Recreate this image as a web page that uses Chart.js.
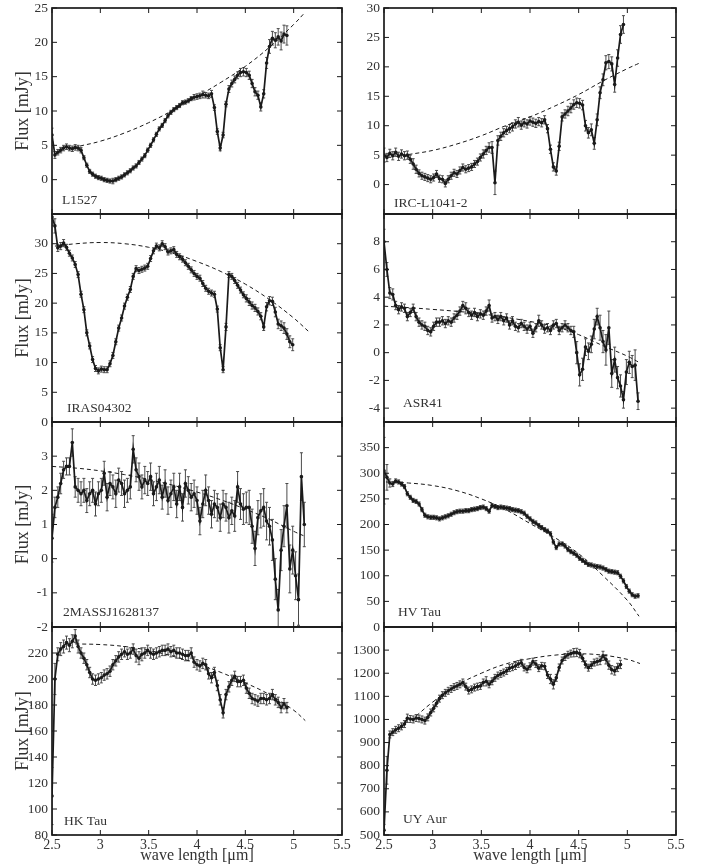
<!DOCTYPE html>
<html>
<head>
<meta charset="utf-8">
<script src="https://cdn.jsdelivr.net/npm/chart.js@4.4.1/dist/chart.umd.min.js"></script>
<style>
  html, body { margin: 0; padding: 0; background: #fff; }
  #wrap { position: relative; width: 712px; height: 867px; overflow: hidden; }
  #wrap canvas { position: absolute; }
</style>
</head>
<body>
<div id="wrap"></div>
<script>
// shared wavelength grid [um]
const wave = [
  2.50, 2.53, 2.56, 2.59, 2.62, 2.65, 2.68, 2.71, 2.74, 2.77,
  2.80, 2.83, 2.86, 2.89, 2.92, 2.95, 2.98, 3.01, 3.04, 3.07,
  3.10, 3.13, 3.16, 3.19, 3.22, 3.25, 3.28, 3.31, 3.34, 3.37,
  3.40, 3.43, 3.46, 3.49, 3.52, 3.55, 3.58, 3.61, 3.64, 3.67,
  3.70, 3.73, 3.76, 3.79, 3.82, 3.85, 3.88, 3.91, 3.94, 3.97,
  4.00, 4.03, 4.06, 4.09, 4.12, 4.15, 4.18, 4.21, 4.24, 4.27,
  4.30, 4.33, 4.36, 4.39, 4.42, 4.45, 4.48, 4.51, 4.54, 4.57,
  4.60, 4.63, 4.66, 4.69, 4.72, 4.75, 4.78, 4.81, 4.84, 4.87,
  4.90, 4.93, 4.96, 4.99, 5.02, 5.05, 5.08, 5.11
];
const xTicks = [2.5, 3, 3.5, 4, 4.5, 5, 5.5];

// L1527
const l1527Flux = [
  6.5, 3.6, 4.0, 4.3, 4.6, 4.8, 4.6, 4.5, 4.7, 4.6,
  4.3, 3.2, 2.1, 1.2, 0.8, 0.5, 0.3, 0.2, 0.0, -0.1,
  -0.2, -0.2, 0.0, 0.2, 0.4, 0.7, 1.0, 1.3, 1.7, 2.0,
  2.5, 3.0, 3.5, 4.3, 5.0, 5.8, 6.6, 7.4, 7.9, 8.6,
  9.3, 9.8, 10.2, 10.5, 10.8, 11.2, 11.3, 11.5, 11.8, 12.0,
  12.1, 12.2, 12.4, 12.3, 12.2, 12.5, 10.5, 7.0, 4.6, 6.5,
  11.0, 13.2, 14.0, 14.6, 15.2, 15.6, 15.7, 15.6, 15.2, 14.0,
  12.8, 12.3, 10.6, 12.5, 17.0, 19.4, 20.6, 20.3, 20.8, 20.2,
  21.2, 21.0
];
const l1527Err = [
  1.0, 0.5, 0.4, 0.4, 0.4, 0.4, 0.4, 0.4, 0.4, 0.4,
  0.4, 0.3, 0.3, 0.3, 0.3, 0.3, 0.3, 0.3, 0.3, 0.3,
  0.3, 0.4, 0.3, 0.3, 0.3, 0.3, 0.3, 0.3, 0.3, 0.3,
  0.3, 0.3, 0.3, 0.3, 0.3, 0.3, 0.3, 0.3, 0.3, 0.3,
  0.3, 0.3, 0.3, 0.3, 0.3, 0.3, 0.3, 0.3, 0.3, 0.4,
  0.4, 0.4, 0.5, 0.4, 0.4, 0.5, 0.4, 0.4, 0.4, 0.4,
  0.4, 0.5, 0.5, 0.5, 0.5, 0.6, 0.6, 0.6, 0.6, 0.6,
  0.6, 0.6, 0.6, 0.6, 0.8, 1.0, 1.0, 1.1, 1.2, 1.3,
  1.3, 1.4
];
const l1527FitWave = [2.79, 3.0, 3.25, 3.5, 3.75, 4.0, 4.25, 4.5, 4.75, 5.0, 5.12];
const l1527Fit = [4.9, 5.6, 6.8, 8.3, 10.1, 12.1, 14.2, 16.5, 19.3, 22.6, 24.4];
const l1527Ticks = [0, 5, 10, 15, 20, 25];

// IRC-L1041-2
const ircFlux = [
  5.0, 4.6, 5.3, 4.9, 5.5, 4.8, 5.2, 4.9, 5.0, 4.3,
  3.5, 2.6, 1.9, 1.5, 1.3, 1.1, 0.9, 1.2, 1.8, 1.0,
  0.9, 0.2, 0.9, 1.5, 2.0, 1.8, 2.4, 2.9, 2.6, 2.8,
  3.0, 3.5, 3.9, 4.6, 5.2, 5.8, 6.3, 6.3, 0.3, 7.5,
  8.2, 8.8, 9.2, 9.5, 9.8, 10.3, 10.6, 10.1, 10.5, 10.3,
  10.8, 10.6, 10.4, 10.7, 10.5, 11.0, 9.5, 6.0, 3.0, 2.3,
  6.5, 11.5, 12.0, 12.5, 13.0, 13.6, 13.9, 13.8, 13.5, 10.0,
  8.8, 9.3, 7.0, 11.0, 15.6, 17.8, 20.7, 20.9, 20.5, 17.0,
  21.5, 25.5, 27.2
];
const ircErr = [
  1.2, 0.7, 0.7, 0.7, 0.7, 0.7, 0.7, 0.7, 0.7, 0.7,
  0.9, 0.7, 0.6, 0.6, 0.6, 0.6, 0.6, 0.6, 0.6, 0.6,
  0.6, 0.6, 0.6, 0.6, 0.6, 0.6, 0.6, 0.6, 0.6, 0.6,
  0.6, 0.6, 0.6, 0.6, 0.7, 0.7, 0.8, 1.0, 2.0, 0.8,
  0.7, 0.7, 0.7, 0.7, 0.7, 0.7, 0.8, 0.7, 0.7, 0.7,
  0.7, 0.7, 0.7, 0.7, 0.7, 0.7, 0.7, 0.7, 0.7, 0.7,
  0.7, 0.7, 0.7, 0.8, 0.8, 0.8, 0.8, 0.8, 0.8, 0.9,
  0.9, 1.0, 1.0, 1.0, 1.0, 1.0, 1.2, 1.2, 1.2, 1.3,
  1.4, 1.5, 1.5
];
const ircFitWave = [2.75, 3.0, 3.25, 3.5, 3.75, 4.0, 4.25, 4.5, 4.75, 5.0, 5.12];
const ircFit = [5.1, 5.8, 6.9, 8.3, 10.0, 11.5, 13.3, 15.3, 17.6, 19.7, 20.6];
const ircTicks = [0, 5, 10, 15, 20, 25, 30];

// IRAS04302
const irasFlux = [
  34.5, 33.0, 29.3, 29.6, 30.1, 29.4, 28.4, 27.6, 26.5, 24.8,
  21.5, 18.9, 15.0, 12.8, 10.5, 9.0, 8.6, 8.9, 8.8, 8.8,
  9.8, 11.2, 13.5, 15.8, 17.5, 19.5, 21.0, 22.3, 24.5, 25.8,
  25.5, 25.7, 25.9, 26.2, 27.5, 28.8, 29.6, 29.3, 30.0, 29.5,
  28.6, 28.8, 29.0, 28.2, 27.8, 27.4, 26.8, 26.2, 25.6, 25.0,
  24.5, 24.2, 23.3, 22.5, 22.0, 21.7, 21.5, 19.0, 12.5, 8.8,
  16.0, 24.8, 24.5, 23.8, 23.0, 22.2, 21.4, 20.8, 20.2, 19.6,
  19.2, 18.6, 17.8, 16.0, 19.4, 20.4, 20.3, 18.5, 16.5, 16.2,
  15.8, 14.8, 13.5, 13.0
];
const irasErr = [
  1.5, 1.2, 0.6, 0.6, 0.6, 0.5, 0.5, 0.5, 0.5, 0.5,
  0.5, 0.5, 0.5, 0.5, 0.5, 0.5, 0.5, 0.5, 0.5, 0.5,
  0.5, 0.5, 0.5, 0.5, 0.5, 0.5, 0.5, 0.5, 0.5, 0.5,
  0.5, 0.5, 0.5, 0.5, 0.5, 0.5, 0.5, 0.5, 0.5, 0.5,
  0.5, 0.5, 0.5, 0.5, 0.5, 0.5, 0.5, 0.5, 0.5, 0.5,
  0.5, 0.5, 0.5, 0.5, 0.5, 0.5, 0.5, 0.5, 0.5, 0.5,
  0.6, 0.5, 0.5, 0.5, 0.5, 0.5, 0.5, 0.6, 0.6, 0.6,
  0.6, 0.6, 0.6, 0.6, 0.7, 0.7, 0.7, 0.8, 0.8, 0.8,
  0.9, 0.9, 1.0, 1.0
];
const irasFitWave = [2.53, 2.75, 3.0, 3.25, 3.5, 3.75, 4.0, 4.25, 4.5, 4.75, 5.0, 5.15];
const irasFit = [29.6, 30.0, 30.2, 30.0, 29.4, 28.4, 27.0, 25.3, 23.2, 20.6, 17.5, 15.3];
const irasTicks = [0, 5, 10, 15, 20, 25, 30];

// ASR41
const asrFlux = [
  8.0, 6.0, 4.3, 4.2, 3.4, 3.1, 3.3, 3.2, 2.6, 2.9,
  3.2, 2.6, 2.2, 2.0, 1.9, 1.6, 1.5, 1.9, 2.2, 2.2,
  2.3, 2.1, 2.3, 2.2, 2.5, 2.7, 3.0, 3.4, 3.2, 2.9,
  2.7, 2.9, 2.6, 2.8, 2.7, 3.0, 3.4, 2.5, 2.6, 2.4,
  2.6, 2.3, 2.5, 2.0, 2.3, 1.9, 1.8, 2.1, 1.9, 1.7,
  1.9, 1.4, 1.8, 2.3, 2.0, 1.7, 1.8, 1.6, 2.0, 2.1,
  1.6, 1.8, 2.0, 1.8, 1.6, 1.5, 0.0, -1.6, -1.2, 0.4,
  0.1, 0.6, 1.7, 2.6, 1.8, 0.8, 0.2, 1.8, -1.5, -0.5,
  -1.8, -2.4, -3.4, -1.4, -0.7, -1.0, -0.9, -3.5
];
const asrErr = [
  0.9, 0.5, 0.4, 0.4, 0.3, 0.3, 0.3, 0.3, 0.3, 0.3,
  0.3, 0.3, 0.3, 0.3, 0.3, 0.3, 0.3, 0.3, 0.3, 0.3,
  0.3, 0.3, 0.3, 0.3, 0.3, 0.3, 0.3, 0.3, 0.4, 0.3,
  0.3, 0.3, 0.3, 0.3, 0.3, 0.3, 0.4, 0.3, 0.3, 0.3,
  0.3, 0.3, 0.3, 0.3, 0.3, 0.3, 0.3, 0.3, 0.3, 0.3,
  0.3, 0.3, 0.3, 0.4, 0.3, 0.3, 0.3, 0.3, 0.3, 0.3,
  0.3, 0.3, 0.3, 0.3, 0.3, 0.4, 0.8, 0.8, 0.8, 0.6,
  0.6, 0.6, 0.7, 0.6, 0.9, 0.8, 1.1, 1.2, 1.0, 0.9,
  0.8, 0.8, 0.6, 0.9, 0.8, 0.8, 1.1, 0.6
];
const asrFitWave = [2.5, 2.75, 3.0, 3.25, 3.5, 3.75, 4.0, 4.25, 4.5, 4.75, 5.0, 5.12];
const asrFit = [3.35, 3.25, 3.12, 2.98, 2.8, 2.55, 2.25, 1.9, 1.3, 0.5, -0.25, -0.7];
const asrTicks = [-4, -2, 0, 2, 4, 6, 8];

// 2MASSJ1628137
const massFlux = [
  0.6, 1.5, 1.8, 2.2, 2.6, 2.7, 2.7, 3.4, 2.1, 2.0,
  1.9, 2.0, 1.7, 1.9, 2.0, 1.6, 1.9, 2.0, 2.5, 1.8,
  2.2, 2.1, 1.9, 2.3, 2.2, 1.9, 2.0, 2.1, 3.2, 2.6,
  2.4, 2.1, 2.3, 2.2, 2.4, 1.9, 2.1, 2.3, 1.8, 2.2,
  1.7, 1.9, 2.1, 1.6, 2.1, 1.5, 2.2, 2.0, 1.8, 1.9,
  1.7, 1.1, 1.6, 2.0, 1.7, 1.3, 1.6, 1.5, 1.2, 1.6,
  1.5, 1.2, 1.4, 1.25, 2.1, 1.6, 1.45, 1.5, 1.5, 0.95,
  0.3, 1.2, 1.4, 1.5, 1.1, 0.95, 0.55, -0.6, -1.5, 0.25,
  0.95, 1.55, -0.3, 0.25, -0.5, -1.2, 2.4, 1.0
];
const massErr = [
  0.7, 0.3, 0.3, 0.3, 0.25, 0.25, 0.25, 0.4, 0.3, 0.35,
  0.35, 0.35, 0.35, 0.35, 0.35, 0.35, 0.35, 0.35, 0.35, 0.4,
  0.35, 0.35, 0.4, 0.35, 0.35, 0.4, 0.35, 0.35, 0.4, 0.35,
  0.4, 0.35, 0.4, 0.35, 0.4, 0.35, 0.4, 0.4, 0.35, 0.4,
  0.4, 0.4, 0.4, 0.4, 0.4, 0.4, 0.4, 0.4, 0.4, 0.4,
  0.4, 0.4, 0.4, 0.45, 0.4, 0.4, 0.4, 0.4, 0.4, 0.4,
  0.4, 0.45, 0.4, 0.45, 0.45, 0.45, 0.45, 0.45, 0.5, 0.5,
  0.5, 0.5, 0.5, 0.55, 0.55, 0.55, 0.6, 0.6, 0.6, 0.6,
  0.6, 0.65, 0.7, 0.7, 0.7, 0.75, 0.7, 0.65
];
const massFitWave = [2.5, 2.75, 3.0, 3.25, 3.5, 3.75, 4.0, 4.25, 4.5, 4.75, 5.0, 5.12];
const massFit = [2.7, 2.65, 2.57, 2.46, 2.32, 2.15, 1.95, 1.72, 1.45, 1.15, 0.8, 0.65];
const massTicks = [-2, -1, 0, 1, 2, 3];

// HV Tau
const hvFlux = [
  305, 292, 281, 279, 285, 283, 279, 274, 260, 253,
  247, 245, 240, 229, 218, 215, 214, 214, 213, 211,
  213, 215, 217, 220, 223, 225, 226, 226, 227, 227,
  229, 230, 231, 233, 234, 231, 226, 237, 235, 233,
  234, 233, 232, 231, 229, 228, 227, 225, 222, 216,
  211, 206, 203, 198, 194, 190, 187, 182, 166, 155,
  162, 162, 158, 151, 147, 144, 140, 134, 130, 126,
  122, 121, 119, 118, 117, 115, 112, 109, 108, 107,
  106, 99, 90, 79, 70, 63, 60, 61
];
const hvErr = [
  65, 25, 8, 5, 4, 4, 4, 4, 4, 4,
  4, 4, 4, 4, 4, 4, 4, 4, 4, 4,
  4, 4, 4, 4, 4, 4, 4, 4, 4, 4,
  4, 4, 4, 4, 4, 4, 4, 4, 4, 4,
  4, 4, 4, 4, 4, 4, 4, 4, 4, 4,
  4, 4, 4, 4, 4, 4, 4, 4, 4, 4,
  4, 4, 4, 4, 4, 4, 4, 4, 4, 4,
  4, 4, 4, 4, 4, 4, 4, 4, 4, 4,
  4, 4, 4, 4, 4, 4, 4, 4
];
const hvFitWave = [2.52, 2.75, 3.0, 3.25, 3.5, 3.75, 4.0, 4.25, 4.5, 4.75, 5.0, 5.12];
const hvFit = [283, 281, 276, 266, 250, 229, 202, 175, 143, 100, 52, 21];
const hvTicks = [0, 50, 100, 150, 200, 250, 300, 350];

// HK Tau
const hkFlux = [
  110, 200, 219, 223, 225, 228, 226, 229, 233, 225,
  220, 216, 211, 205, 200, 199, 200, 201, 203, 204,
  206, 211, 214, 217, 219, 221, 219, 220, 223, 218,
  216, 219, 220, 222, 220, 219, 220, 221, 222, 222,
  223, 221, 222, 220, 220, 219, 218, 218, 220, 213,
  211, 210, 212, 211, 204, 201, 205, 195, 184, 174,
  188, 194, 199, 202, 198, 198, 199, 193, 189, 185,
  184, 183, 185, 185, 184, 185, 188, 184, 182, 178,
  181, 178
];
const hkErr = [
  22, 12, 5, 5, 5, 5, 5, 5, 5, 5,
  4, 4, 4, 4, 4, 4, 4, 4, 4, 4,
  4, 4, 4, 4, 4, 4, 4, 4, 4, 5,
  5, 5, 4, 4, 4, 4, 4, 4, 4, 4,
  4, 4, 4, 4, 4, 4, 4, 4, 4, 4,
  4, 4, 4, 4, 4, 4, 4, 4, 4, 4,
  4, 4, 4, 4, 4, 4, 4, 4, 4, 4,
  4, 4, 4, 4, 4, 4, 4, 4, 4, 4,
  4, 4
];
const hkFitWave = [2.74, 3.0, 3.25, 3.5, 3.75, 4.0, 4.25, 4.5, 4.75, 5.0, 5.12];
const hkFit = [227, 226.5, 225, 222, 217.5, 212, 205, 197, 188, 176, 168];
const hkTicks = [80, 100, 120, 140, 160, 180, 200, 220];

// UY Aur
const uyFlux = [
  521, 780, 935, 945, 955, 962, 970, 980, 1005, 1002,
  1000, 1006, 1004, 1000, 995, 1009, 1030, 1048, 1070, 1090,
  1105, 1115, 1124, 1132, 1140, 1145, 1152, 1160, 1142, 1125,
  1130, 1138, 1142, 1145, 1160, 1165, 1152, 1165, 1180, 1190,
  1197, 1203, 1210, 1222, 1226, 1231, 1240, 1245, 1225, 1217,
  1230, 1250, 1240, 1222, 1232, 1230, 1192, 1175, 1152, 1180,
  1225, 1255, 1270, 1280, 1285, 1289, 1290, 1285, 1265, 1238,
  1224, 1235, 1246, 1250, 1255, 1275, 1260, 1235, 1215, 1210,
  1225, 1238
];
const uyErr = [
  25, 60, 15, 15, 15, 15, 15, 15, 18, 15,
  15, 15, 15, 15, 15, 15, 15, 15, 15, 15,
  15, 15, 15, 15, 15, 15, 15, 15, 15, 15,
  15, 15, 15, 15, 15, 20, 15, 15, 15, 15,
  15, 15, 15, 15, 15, 15, 15, 15, 15, 15,
  15, 15, 15, 15, 15, 15, 15, 20, 20, 15,
  15, 15, 15, 15, 15, 18, 18, 18, 15, 15,
  15, 15, 15, 15, 18, 20, 20, 18, 18, 18,
  18, 18
];
const uyFitWave = [2.83, 3.0, 3.25, 3.5, 3.75, 4.0, 4.25, 4.5, 4.75, 5.0, 5.13];
const uyFit = [1015, 1075, 1148, 1200, 1240, 1263, 1278, 1284, 1278, 1260, 1242];
const uyTicks = [500, 600, 700, 800, 900, 1000, 1100, 1200, 1300];

const panels = [
  { name: 'L1527', flux: l1527Flux, err: l1527Err, fitWave: l1527FitWave, fit: l1527Fit, min: -5, max: 25, ticks: l1527Ticks, col: 0, row: 0, lab: [10, 14] },
  { name: 'IRC-L1041-2', flux: ircFlux, err: ircErr, fitWave: ircFitWave, fit: ircFit, min: -5, max: 30, ticks: ircTicks, col: 1, row: 0, lab: [10, 11] },
  { name: 'IRAS04302', flux: irasFlux, err: irasErr, fitWave: irasFitWave, fit: irasFit, min: 0, max: 35, ticks: irasTicks, col: 0, row: 1, lab: [15, 14] },
  { name: 'ASR41', flux: asrFlux, err: asrErr, fitWave: asrFitWave, fit: asrFit, min: -5, max: 10, ticks: asrTicks, col: 1, row: 1, lab: [19, 19] },
  { name: '2MASSJ1628137', flux: massFlux, err: massErr, fitWave: massFitWave, fit: massFit, min: -2, max: 4, ticks: massTicks, col: 0, row: 2, lab: [11, 15] },
  { name: 'HV Tau', flux: hvFlux, err: hvErr, fitWave: hvFitWave, fit: hvFit, min: 0, max: 400, ticks: hvTicks, col: 1, row: 2, lab: [14, 15] },
  { name: 'HK Tau', flux: hkFlux, err: hkErr, fitWave: hkFitWave, fit: hkFit, min: 80, max: 240, ticks: hkTicks, col: 0, row: 3, lab: [12, 14] },
  { name: 'UY Aur', flux: uyFlux, err: uyErr, fitWave: uyFitWave, fit: uyFit, min: 500, max: 1400, ticks: uyTicks, col: 1, row: 3, lab: [19, 16] }
];

// page layout (px)
const colLeft = [52, 384], colRight = [342, 676];
const canvasLeft = [0, 354], canvasRight = [354, 712];
const rowTop = [8, 214, 422, 627], rowBottom = [214, 422, 627, 835];
const serif = '"Liberation Serif", "DejaVu Serif", serif';
const ink = '#1a1a1a', textInk = '#333';

function decor(p) {
  return {
    id: 'decor',
    beforeDatasetsDraw(chart) {
      const { ctx, chartArea: a, scales: { x, y } } = chart;
      ctx.save();
      ctx.beginPath();
      ctx.rect(a.left, a.top, a.width, a.height);
      ctx.clip();
      ctx.strokeStyle = '#4a4a4a';
      ctx.lineWidth = 1;
      ctx.beginPath();
      p.flux.forEach((v, i) => {
        const e = p.err[i];
        const px = x.getPixelForValue(wave[i]);
        const y1 = y.getPixelForValue(v - e), y2 = y.getPixelForValue(v + e);
        ctx.moveTo(px, y1); ctx.lineTo(px, y2);
        ctx.moveTo(px - 1.5, y1); ctx.lineTo(px + 1.5, y1);
        ctx.moveTo(px - 1.5, y2); ctx.lineTo(px + 1.5, y2);
      });
      ctx.stroke();
      ctx.restore();
    },
    afterDraw(chart) {
      const { ctx, chartArea: a, scales: { x, y } } = chart;
      ctx.save();
      ctx.strokeStyle = ink;
      ctx.lineWidth = 1;
      ctx.beginPath();
      xTicks.forEach(v => {
        const px = x.getPixelForValue(v);
        ctx.moveTo(px, a.top); ctx.lineTo(px, a.top + 5);
        ctx.moveTo(px, a.bottom); ctx.lineTo(px, a.bottom - 5);
      });
      p.ticks.forEach(v => {
        const py = y.getPixelForValue(v);
        ctx.moveTo(a.left, py); ctx.lineTo(a.left + 5, py);
        ctx.moveTo(a.right, py); ctx.lineTo(a.right - 5, py);
      });
      ctx.stroke();
      ctx.lineWidth = 1.7;
      ctx.strokeRect(a.left, a.top, a.width, a.height);
      ctx.fillStyle = textInk;
      ctx.font = '13.5px ' + serif;
      ctx.textBaseline = 'middle';
      ctx.fillText(p.name, a.left + p.lab[0], a.bottom - p.lab[1]);
      ctx.restore();
    }
  };
}

const wrap = document.getElementById('wrap');

panels.forEach(p => {
  const bottomRow = p.row === 3;
  const top = rowTop[p.row] - 8;
  const h = bottomRow ? 867 - top : rowBottom[p.row] + 8 - top;
  const left = canvasLeft[p.col];
  const w = canvasRight[p.col] - left;
  const yW = colLeft[p.col] - left;
  const padR = canvasRight[p.col] - colRight[p.col];
  const xH = bottomRow ? 867 - rowBottom[3] : 0;

  const c = document.createElement('canvas');
  c.width = w; c.height = h;
  c.style.left = left + 'px';
  c.style.top = top + 'px';
  c.style.width = w + 'px';
  c.style.height = h + 'px';
  wrap.appendChild(c);

  new Chart(c, {
    type: 'line',
    data: {
      datasets: [
        {
          data: p.flux.map((v, i) => ({ x: wave[i], y: v })),
          borderColor: ink, backgroundColor: ink,
          borderWidth: 1.7, tension: 0,
          pointRadius: 1.8, pointBorderWidth: 0, pointBackgroundColor: ink
        },
        {
          data: p.fit.map((v, i) => ({ x: p.fitWave[i], y: v })),
          borderColor: ink, borderWidth: 1, borderDash: [4, 3],
          pointRadius: 0, tension: 0.4
        }
      ]
    },
    options: {
      responsive: false,
      animation: false,
      layout: { padding: { top: 8, bottom: bottomRow ? 0 : 8, left: 0, right: padR } },
      plugins: { legend: { display: false }, tooltip: { enabled: false } },
      scales: {
        x: {
          type: 'linear', min: 2.5, max: 5.5,
          afterBuildTicks: s => { s.ticks = xTicks.map(v => ({ value: v })); },
          afterFit: s => { s.height = xH; s.paddingLeft = 0; s.paddingRight = 0; },
          grid: { display: false, drawTicks: false },
          border: { display: false },
          ticks: {
            display: bottomRow, autoSkip: false, maxRotation: 0, padding: 2,
            font: { family: serif, size: 14 }, color: textInk,
            callback: v => String(v)
          },
          title: {
            display: bottomRow, text: 'wave length [μm]',
            font: { family: serif, size: 16 }, color: textInk,
            padding: { top: 0, bottom: 2 }
          }
        },
        y: {
          type: 'linear', min: p.min, max: p.max,
          afterBuildTicks: s => { s.ticks = p.ticks.map(v => ({ value: v })); },
          afterFit: s => { s.width = yW; s.paddingTop = 0; s.paddingBottom = 0; },
          grid: { display: false, drawTicks: false },
          border: { display: false },
          ticks: {
            padding: 4,
            font: { family: serif, size: 13.5 }, color: textInk,
            callback: v => String(v)
          },
          title: {
            display: p.col === 0, text: 'Flux [mJy]',
            font: { family: serif, size: 18 }, color: textInk,
            padding: { top: 12, bottom: 0 }
          }
        }
      }
    },
    plugins: [decor(p)]
  });
});
</script>
</body>
</html>
